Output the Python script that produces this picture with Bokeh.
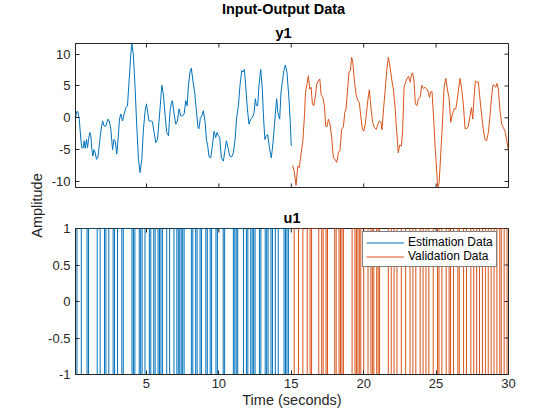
import math
from bokeh.plotting import figure
from bokeh.models import Range1d, LinearAxis, FixedTicker, Label, Legend, LegendItem
from bokeh.layouts import column, row
from bokeh.embed import file_html
from bokeh.resources import INLINE

# ---------------- data ----------------
t_est = [0.1, 0.17, 0.27, 0.36, 0.47, 0.54, 0.63, 0.70, 0.77, 0.86, 0.93, 1.0, 1.09, 1.16, 1.23, 1.30,
         1.37, 1.46, 1.55, 1.64, 1.74, 1.85, 1.97, 2.08, 2.20, 2.33, 2.43, 2.54, 2.66, 2.75, 2.84, 2.95,
         3.05, 3.14, 3.23, 3.35, 3.46, 3.58, 3.69, 3.81, 3.92, 3.99, 4.10, 4.22, 4.33, 4.45, 4.56, 4.68,
         4.79, 4.91, 5.0, 5.09, 5.18, 5.32, 5.41, 5.53, 5.64, 5.76, 5.87, 5.99, 6.06, 6.17, 6.29, 6.40,
         6.52, 6.63, 6.73, 6.79, 6.91, 7.02, 7.14, 7.25, 7.37, 7.48, 7.60, 7.71, 7.81, 7.90, 8.01, 8.10,
         8.22, 8.33, 8.45, 8.56, 8.63, 8.72, 8.82, 8.93, 9.05, 9.14, 9.23, 9.32, 9.44, 9.55, 9.67, 9.78,
         9.87, 9.97, 10.06, 10.17, 10.31, 10.43, 10.52, 10.63, 10.75, 10.89, 11.0, 11.12, 11.23, 11.35,
         11.46, 11.58, 11.67, 11.76, 11.85, 11.97, 12.08, 12.20, 12.31, 12.43, 12.52, 12.59, 12.68, 12.77,
         12.89, 13.0, 13.09, 13.18, 13.28, 13.37, 13.51, 13.62, 13.74, 13.87, 13.99, 14.08, 14.20, 14.29,
         14.38, 14.49, 14.59, 14.70, 14.84, 14.93, 15.0]
y_est = [-0.2, 0.95, 0.95, -0.2, -3.4, -4.7, -4.7, -3.6, -4.8, -3.4, -4.7, -3.4, -2.3, -2.8, -5.0, -6.0,
         -5.0, -5.5, -6.5, -6.3, -4.4, -2.1, -0.5, -1.3, -1.3, -0.2, -0.5, -1.8, -5.0, -3.4, -3.6, -5.7,
         -3.1, -0.2, 0.6, -0.5, 0.6, 1.6, 1.9, 6.1, 10.0, 11.65, 9.8, 4.5, -1.3, -6.5, -8.6, -6.5,
         -1.8, 1.1, 2.2, 0.8, -0.5, -0.5, -0.6, -2.3, -3.9, -3.4, -0.5, 3.0, 5.1, 3.7, 0.3, -2.3,
         -2.8, 1.1, 2.4, 2.7, 0.6, -1.0, -0.5, 1.4, 0.3, 0.3, 0.6, 2.7, 1.9, 5.1, 7.2, 7.8,
         5.6, 4.0, 1.1, -1.5, -1.7, -0.1, 0.3, 1.1, -0.7, -3.4, -4.4, -6.1, -6.3, -4.4, -2.1, -3.1,
         -2.3, -2.8, -3.1, -6.3, -6.8, -5.0, -3.6, -4.7, -6.0, -6.1, -5.5, -3.4, 0.05, 1.9,
         5.1, 7.4, 7.2, 7.6, 5.1, 1.4, -1.0, -0.2, 0.05, 0.8, 3.0, 1.9, 1.9, 5.1,
         7.6, 4.5, -0.2, -3.4, -2.8, -2.6, -5.0, -6.3, -3.9, -0.2, 3.0, 0.8, -0.2, 4.0,
         5.6, 7.4, 8.3, 7.2, 3.0, -0.7, -4.4]

t_val = [15.10, 15.22, 15.33, 15.45, 15.56, 15.68, 15.79, 15.91, 15.98, 16.07, 16.18, 16.28, 16.37, 16.46,
         16.55, 16.64, 16.76, 16.87, 16.97, 17.06, 17.17, 17.29, 17.38, 17.47, 17.56, 17.68, 17.79, 17.91,
         18.02, 18.14, 18.25, 18.37, 18.48, 18.60, 18.69, 18.78, 18.90, 18.99, 19.08, 19.17, 19.26, 19.36,
         19.47, 19.59, 19.70, 19.82, 19.91, 20.0, 20.11, 20.21, 20.30, 20.39, 20.51, 20.62, 20.74, 20.87,
         20.99, 21.08, 21.20, 21.26, 21.38, 21.49, 21.59, 21.70, 21.82, 21.93, 22.05, 22.16, 22.28, 22.39,
         22.48, 22.60, 22.69, 22.79, 22.89, 22.98, 23.09, 23.21, 23.30, 23.39, 23.48, 23.57, 23.67, 23.78,
         23.90, 24.01, 24.13, 24.24, 24.36, 24.47, 24.54, 24.63, 24.72, 24.82, 24.93, 25.05, 25.11, 25.21,
         25.32, 25.44, 25.55, 25.67, 25.78, 25.90, 26.01, 26.13, 26.24, 26.36, 26.47, 26.56, 26.66, 26.77,
         26.89, 27.00, 27.11, 27.23, 27.34, 27.44, 27.53, 27.62, 27.71, 27.80, 27.92, 28.03, 28.15, 28.26,
         28.38, 28.49, 28.61, 28.72, 28.84, 28.93, 29.02, 29.11, 29.21, 29.30, 29.41, 29.53, 29.64, 29.76,
         29.87, 30.0]
y_val = [-7.5, -8.6, -10.6, -7.6, -7.8, -5.5, -3.9, 0.3, 4.0, 5.1, 6.6, 4.5, 4.8, 2.2,
         1.9, 3.0, 5.3, 5.8, 6.1, 3.7, 3.2, 1.9, -1.3, -1.4, -0.2, -1.0, -3.1, -6.3,
         -6.5, -7.0, -5.5, -5.0, -1.8, -1.4, 0.8, 1.4, 4.8, 7.2, 7.4, 9.5, 8.5, 5.8,
         3.7, 2.7, 2.4, -0.2, -1.8, -2.1, -1.0, 1.1, 3.0, 4.4, 1.4, -0.7, -1.5, -1.8,
         -1.0, -0.5, -0.7, -1.9, 1.6, 4.5, 7.4, 9.5, 8.0, 6.1, 4.5, 1.9, -2.1, -5.5,
         -4.3, -4.4, -2.0, 4.8, 5.6, 6.1, 6.5, 5.6, 6.9, 7.0, 5.6, 2.2, 1.9, 3.0,
         3.2, 5.1, 4.6, 4.8, 4.5, 4.0, 3.2, 4.1, 4.1, 0.3, -4.4, -8.6, -10.9, -10.2,
         -5.7, -0.7, 4.8, 6.2, 4.5, 3.0, -0.7, 0.6, 1.4, 1.4, 3.0, 4.6, 6.2, 4.5,
         1.9, -1.7, -1.7, -1.3, 0.3, 1.6, -0.2, 3.2, 5.8, 5.6, 5.6, 3.0, 0.3, -1.8,
         -3.4, -3.6, -2.3, 0.3, 3.5, 5.2, 5.1, 4.8, 5.4, 4.5, 1.1, -1.0, -1.5, -2.1,
         -3.4, -5.3]

# input u1: switching instants of the +/-1 signal
u_est_span = [0.1, 15.0]
u_est_start = 1
u_est_switch = [0.2, 0.5, 0.9, 1.0, 1.6, 1.8, 2.1, 2.2, 2.4, 2.7, 2.8, 3.0, 3.3, 3.4, 4.0, 4.1, 4.2,
                4.5, 4.6, 4.7, 4.9, 5.2, 5.3, 5.5, 5.6, 5.8, 5.9, 6.0, 6.1, 6.4, 6.6, 6.9, 7.1,
                7.2, 7.3, 7.4, 7.5, 7.6, 8.1, 8.2, 8.4, 8.5, 8.7, 8.8, 9.1, 9.2, 9.4, 9.5, 9.8,
                9.9, 10.3, 10.4, 11.0, 11.1, 11.2, 11.3, 11.7, 11.9, 12.0, 12.2, 12.3, 12.4, 12.5,
                12.8, 12.9, 13.2, 13.3, 13.4, 13.6, 13.7, 13.9, 14.1, 14.5, 14.6, 14.7, 14.8]
u_val_span = [15.1, 30.0]
u_val_start = 1
u_val_switch = [15.2, 15.5, 15.8, 16.1, 16.3, 16.4, 16.9, 17.1, 17.2, 17.4, 17.5, 18.0, 18.1, 18.3,
                18.4, 18.5, 18.6, 19.2, 19.4, 19.5, 19.6, 19.7, 19.8, 20.0, 20.3, 20.5, 20.6, 20.7,
                20.9, 21.0, 21.1, 21.7, 21.9, 22.1, 22.3, 22.6, 22.9, 23.2, 23.4, 23.6, 23.9, 24.1,
                24.3, 24.5, 24.8, 25.1, 25.2, 25.4, 25.7, 25.9, 26.0, 26.2, 26.5, 26.6, 26.9, 27.1,
                27.4, 27.6, 27.8, 28.0, 28.2, 28.4, 28.6, 28.8, 29.0, 29.2, 29.4, 29.5, 29.7, 29.9]

t_range = (0.1, 30.0)
y1_range = (-10.94, 11.67)
u1_range = (-1.0, 1.0)
x_ticks = [5, 10, 15, 20, 25, 30]
y1_ticks = [-10, -5, 0, 5, 10]
u1_ticks = [-1, -0.5, 0, 0.5, 1]
u1_tick_labels = ["-1", "-0.5", "0", "0.5", "1"]

# ---------------- style ----------------
BLUE = "#0072BD"
ORANGE = "#D95319"
AX = "#262626"
FONT = "Liberation Sans"
LEFT_W = 45
MAIN_W = 511


def stairs(span, switches, start):
    xs = [span[0]] + list(switches) + [span[1]]
    ys = []
    lvl = start
    for _ in range(len(switches) + 1):
        ys.append(lvl)
        lvl = -lvl
    ys.append(ys[-1])
    return xs, ys


def make_axis(ticks, labels, standoff):
    ax = LinearAxis(ticker=FixedTicker(ticks=ticks))
    ax.axis_line_color = AX
    ax.axis_line_width = 1
    ax.major_tick_line_color = AX
    ax.major_tick_in = 4
    ax.major_tick_out = 0
    ax.minor_tick_line_color = None
    ax.major_label_text_font = FONT
    ax.major_label_text_font_size = "13px"
    ax.major_label_text_color = AX
    ax.major_label_standoff = standoff
    ax.major_label_overrides = {t: l for t, l in zip(ticks, labels)}
    return ax


def text_fig(width, height):
    f = figure(width=width, height=height, output_backend="svg", toolbar_location=None,
               x_range=Range1d(0, width), y_range=Range1d(0, height),
               x_axis_location=None, y_axis_location=None,
               min_border=0, min_border_left=0, min_border_right=0,
               min_border_top=0, min_border_bottom=0)
    f.grid.visible = False
    f.outline_line_color = None
    f.background_fill_alpha = 0
    f.border_fill_alpha = 0
    return f


def plot_fig(height, yr, top, bottom):
    p = figure(width=MAIN_W, height=height, output_backend="svg", toolbar_location=None,
               x_range=Range1d(*t_range), y_range=Range1d(*yr),
               x_axis_location=None, y_axis_location=None,
               min_border_left=28, min_border_right=MAIN_W - 28 - 435,
               min_border_top=top, min_border_bottom=bottom)
    p.grid.visible = False
    p.outline_line_color = AX
    p.outline_line_width = 1
    p.background_fill_color = "white"
    p.border_fill_alpha = 0
    return p


def mirror_ticks(p, yr, yticks, bottom_too):
    # inward tick marks on the box edges without labels (half of each dash is clipped by the frame)
    p.scatter(x_ticks, [yr[1]] * len(x_ticks), marker="dash", size=8, angle=math.pi / 2,
              line_color=AX, line_width=1)
    if bottom_too:
        p.scatter(x_ticks, [yr[0]] * len(x_ticks), marker="dash", size=8, angle=math.pi / 2,
                  line_color=AX, line_width=1)
    p.scatter([t_range[1]] * len(yticks), yticks, marker="dash", size=8,
              line_color=AX, line_width=1)


def add_text(f, x, y, text, bold=True, angle=0.0, size="14.5px", color="black"):
    f.add_layout(Label(x=x, y=y, x_units="data", y_units="data", text=text, angle=angle,
                       text_font=FONT, text_font_size=size,
                       text_font_style="bold" if bold else "normal",
                       text_color=color, text_align="center", text_baseline="middle"))


# ---------------- header (overall title + y1 title) ----------------
head = text_fig(MAIN_W, 41)
add_text(head, 290.5 - LEFT_W, 41 - 8, "Input-Output Data")
add_text(head, 290.5 - LEFT_W, 41 - 32, "y1")

# ---------------- top: y1 ----------------
p1 = plot_fig(150, y1_range, 2, 4)
p1.add_layout(make_axis(y1_ticks, [str(v) for v in y1_ticks], 5), "left")
p1.line(t_est, y_est, color=BLUE, line_width=1)
p1.line(t_val, y_val, color=ORANGE, line_width=1)
mirror_ticks(p1, y1_range, y1_ticks, True)

# ---------------- bottom: u1 ----------------
P2_H = 221
p2 = plot_fig(P2_H, u1_range, 37, 38)
p2.title.text = "u1"
p2.title.align = "center"
p2.title.vertical_align = "middle"
p2.title.standoff = 4
p2.title.text_font = FONT
p2.title.text_font_size = "14.5px"
p2.title.text_font_style = "bold"
p2.title.text_color = "black"
p2.add_layout(make_axis(u1_ticks, u1_tick_labels, 5), "left")
xax = make_axis(x_ticks, [str(v) for v in x_ticks], 4)
xax.axis_label = "Time (seconds)"
xax.axis_label_text_font = FONT
xax.axis_label_text_font_size = "14.5px"
xax.axis_label_text_font_style = "normal"
xax.axis_label_text_color = AX
xax.axis_label_standoff = 1
p2.add_layout(xax, "below")

xe, ye = stairs(u_est_span, u_est_switch, u_est_start)
xv, yv = stairs(u_val_span, u_val_switch, u_val_start)
r_est = p2.step(xe, ye, mode="after", line_color=BLUE, line_width=1)
r_val = p2.step(xv, yv, mode="after", line_color=ORANGE, line_width=1)
mirror_ticks(p2, u1_range, u1_ticks, False)

legend = Legend(items=[LegendItem(label="Estimation Data", renderers=[r_est]),
                       LegendItem(label="Validation Data", renderers=[r_val])],
                location=(287, 107), margin=0, padding=3, spacing=0,
                glyph_width=38, glyph_height=13, label_height=13, label_standoff=4,
                label_text_font=FONT, label_text_font_size="12px", label_text_color="black",
                border_line_color="black", border_line_width=1,
                background_fill_color="white", background_fill_alpha=1)
p2.add_layout(legend)

# ---------------- left strip (shared y label) ----------------
TOTAL_H = 41 + 150 + P2_H
left = text_fig(LEFT_W, TOTAL_H)
add_text(left, 36, TOTAL_H - 205, "Amplitude", bold=False, angle=math.pi / 2, color=AX)

layout = row(left, column(head, p1, p2))
open("out.html", "w").write(file_html(layout, INLINE))
